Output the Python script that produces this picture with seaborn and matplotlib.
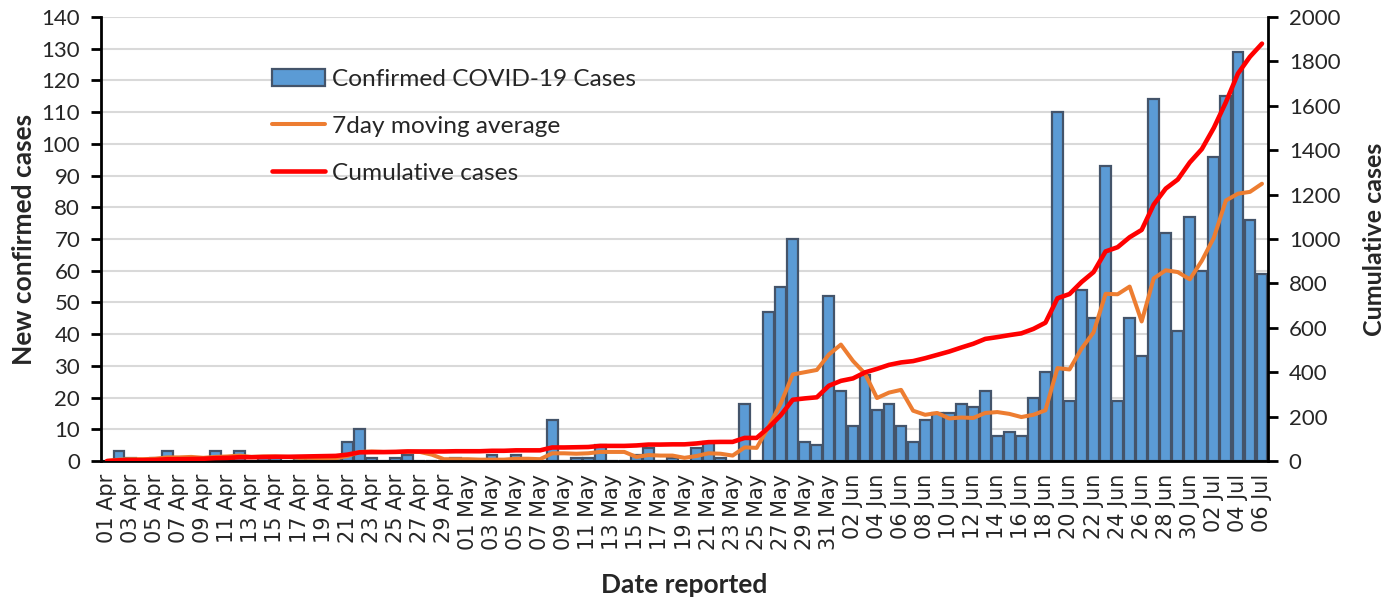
# COVID-19 daily cases, 7-day moving average and cumulative cases (01 Apr - 06 Jul)
import numpy as np
import pandas as pd
import matplotlib
matplotlib.use("Agg")
import matplotlib.pyplot as plt
import seaborn as sns

# ---- data ----
dates = pd.date_range("2020-04-01", "2020-07-06", freq="D")
date_labels = list(dates.strftime("%d %b"))

new_cases = [
    0, 3, 1, 0, 1, 3, 0, 1, 1, 3, 1, 3, 0, 1, 1, 0, 1, 1, 1, 1,      # 01-20 Apr
    6, 10, 1, 0, 1, 2, 0, 0, 0, 1,                                    # 21-30 Apr
    0, 0, 2, 0, 2, 0, 0, 13, 0, 1, 1, 5, 0, 0, 2, 4, 0, 1, 0, 4,     # 01-20 May
    6, 1, 0, 18, 0, 47, 55, 70, 6, 5, 52,                             # 21-31 May
    22, 11, 27, 16, 18, 11, 6, 13, 15, 15, 18, 17, 22, 8, 9, 8, 20,  # 01-17 Jun
    28, 110, 19, 54, 45, 93, 19, 45, 33, 114, 72, 41, 77,            # 18-30 Jun
    60, 96, 115, 129, 76, 59,                                         # 01-06 Jul
]

moving_avg = [
    0.0, 0.43, 0.57, 0.57, 0.71, 1.14, 1.14, 1.29, 1.0, 1.29,
    1.43, 1.71, 1.29, 1.43, 1.43, 1.29, 1.0, 1.0, 0.71, 0.86,
    1.57, 2.86, 3.0, 2.86, 2.86, 3.0, 2.86, 2.0, 0.57, 0.57,
    0.57, 0.43, 0.43, 0.43, 0.71, 0.71, 0.57, 2.43, 2.43, 2.29,
    2.43, 2.86, 2.86, 2.86, 1.29, 1.86, 1.71, 1.71, 1.0, 1.57,
    2.43, 2.29, 1.71, 4.29, 4.14, 10.86, 18.14, 27.29, 28.0, 28.71,
    33.57, 36.71, 31.57, 27.57, 19.86, 21.57, 22.43, 15.86, 14.57, 15.14,
    13.43, 13.71, 13.57, 15.14, 15.43, 14.86, 13.86, 14.57, 16.0, 29.29,
    28.86, 35.43, 40.57, 52.71, 52.57, 55.0, 44.0, 57.57, 60.14, 59.57,
    57.29, 63.14, 70.43, 82.14, 84.29, 84.86, 87.43,
]

cumulative = [
    0, 3, 4, 4, 5, 8, 8, 9, 10, 13, 14, 17, 17, 18, 19, 19, 20, 21, 22, 23,
    29, 39, 40, 40, 41, 43, 43, 43, 43, 44, 44, 44, 46, 46, 48, 48, 48, 61, 61, 62,
    63, 68, 68, 68, 70, 74, 74, 75, 75, 79, 85, 86, 86, 104, 104, 151, 206, 276, 282, 287,
    339, 361, 372, 399, 415, 433, 444, 450, 463, 478, 493, 511, 528, 550, 558, 567, 575, 595, 623, 733,
    752, 806, 851, 944, 963, 1008, 1041, 1155, 1227, 1268, 1345, 1405, 1501, 1616, 1745, 1821, 1880,
]

df = pd.DataFrame({
    "day": np.arange(len(new_cases)),
    "cases": new_cases,
    "ma": moving_avg,
    "cum": cumulative,
})

# ---- estilo ----
sns.set_style("white")
plt.rcParams["font.family"] = ["Lato", "DejaVu Sans"]

fig = plt.figure(figsize=(13.95, 6), dpi=100)
ax = fig.add_axes([101 / 1395, 139 / 600, 1167 / 1395, 444 / 600])

sns.barplot(data=df, x="day", y="cases", color="#5B9BD5", edgecolor="#44546A",
            linewidth=1.6, width=0.9, saturation=1, ax=ax,
            label="Confirmed COVID-19 Cases")
sns.lineplot(data=df, x="day", y="ma", color="#ED7D31", linewidth=2.9, ax=ax,
             label="7day moving average")

ax2 = ax.twinx()
sns.lineplot(data=df, x="day", y="cum", color="#FF0000", linewidth=3.3, ax=ax2,
             label="Cumulative cases")

# ejes
ax.set_xlim(-0.5, len(new_cases) - 0.5)
ax.set_ylim(0, 140)
ax.set_yticks(np.arange(0, 141, 10))
ax2.set_ylim(0, 2000)
ax2.set_yticks(np.arange(0, 2001, 200))

ax.set_xticks(np.arange(0, len(new_cases), 2))
ax.set_xticklabels(date_labels[::2], rotation=90, fontsize=15, family="DejaVu Sans")
ax.set_xticks(np.arange(-0.5, len(new_cases), 2), minor=True)
ax.tick_params(axis="x", which="major", length=0, pad=9)
ax.tick_params(axis="x", which="minor", length=7, width=2, color="black", direction="out")
ax.tick_params(axis="y", labelsize=16, length=7, width=2, color="black", pad=8)
ax2.tick_params(axis="y", labelsize=16, length=7, width=2, color="black", pad=8)

ax.yaxis.grid(True, color="#d9d9d9", linewidth=1.5)
ax.set_axisbelow(True)

for s in ["left", "bottom"]:
    ax.spines[s].set_linewidth(2)
    ax.spines[s].set_color("black")
ax.spines["top"].set_visible(False)
ax.spines["right"].set_visible(False)
ax2.spines["top"].set_visible(False)
ax2.spines["left"].set_visible(False)
ax2.spines["bottom"].set_visible(False)
ax2.spines["right"].set_linewidth(2)
ax2.spines["right"].set_color("black")

ax.set_xlabel("Date reported", fontsize=19, fontweight="bold", labelpad=17)
ax.set_ylabel("New confirmed cases", fontsize=19, fontweight="bold", labelpad=4)
ax2.set_ylabel("Cumulative cases", fontsize=18, fontweight="bold", labelpad=16)

# leyenda combinada (barras, media movil, acumulado)
h1, l1 = ax.get_legend_handles_labels()
h2, l2 = ax2.get_legend_handles_labels()
if ax.get_legend() is not None:
    ax.get_legend().remove()
if ax2.get_legend() is not None:
    ax2.get_legend().remove()
lookup = dict(zip(l1 + l2, h1 + h2))
order = ["Confirmed COVID-19 Cases", "7day moving average", "Cumulative cases"]
ax2.legend([lookup[k] for k in order], order, loc="upper left",
           bbox_to_anchor=(250 / 1395, 1 - 47 / 600),
           bbox_transform=fig.transFigure, frameon=False, fontsize=17.6,
           handlelength=2.15, labelspacing=1.05, handletextpad=0.3)

fig.savefig("out.png", dpi=100)
plt.close(fig)
